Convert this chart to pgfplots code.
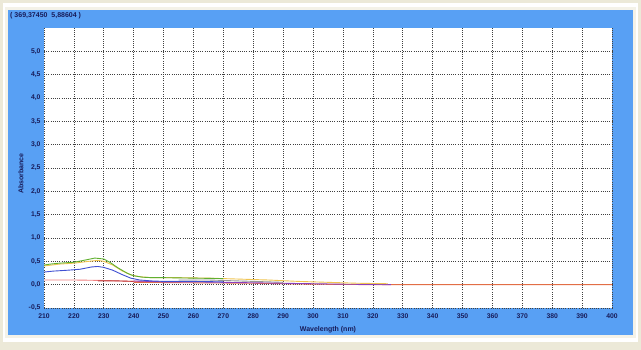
\documentclass[border=0pt]{standalone}
\usepackage{pgfplots}
\pgfplotsset{compat=1.18}
\usepackage{fontspec}
\setmainfont{Liberation Sans}
\definecolor{panelblue}{RGB}{88,160,244}
\definecolor{frame}{RGB}{236,233,216}
\definecolor{navy}{RGB}{24,28,90}
\definecolor{cgreen}{RGB}{96,176,48}
\definecolor{cyellow}{RGB}{240,196,80}
\definecolor{cblue}{RGB}{64,80,210}
\definecolor{cpink}{RGB}{240,128,128}
\definecolor{cdred}{RGB}{192,64,64}
\definecolor{cpurple}{RGB}{140,64,190}
\definecolor{cgrey}{RGB}{150,150,150}
\definecolor{corange}{RGB}{226,110,70}
\begin{document}
\begin{tikzpicture}[x=1pt,y=1pt]
\useasboundingbox (0,0) rectangle (641,350);
\fill[frame] (0,0) rectangle (641,350);
\fill[white] (3,8) rectangle (638,347);
\fill[frame!60!white] (5,12) rectangle (636,343);
\fill[panelblue] (8,15) rectangle (633,340);
\node[anchor=west,text=navy,font=\bfseries\fontsize{7}{8}\selectfont,inner sep=0pt] at (10,334.5) {( 369,37450~~5,88604 )};
\begin{axis}[
  at={(44pt,42pt)}, anchor=south west,
  scale only axis, width=568pt, height=280pt,
  xmin=210, xmax=400, ymin=-0.5, ymax=5.5,
  xtick={210,220,...,400},
  ytick={-0.5,0,0.5,1,1.5,2,2.5,3,3.5,4,4.5,5},
  axis background/.style={fill=white},
  axis line style={draw=none},
  major tick length=0pt,
  grid=major,
  major grid style={black!75, line width=0.6pt, dash pattern=on 1pt off 1.2pt},
  tick label style={font=\bfseries\fontsize{6.8}{7}\selectfont, text=navy},
  /pgf/number format/assume math mode=true,
  yticklabel style={xshift=0pt, /pgf/number format/use comma, /pgf/number format/fixed, /pgf/number format/fixed zerofill, /pgf/number format/precision=1},
  xticklabel style={yshift=-2pt, /pgf/number format/fixed, /pgf/number format/precision=0, /pgf/number format/1000 sep={}},
  xlabel={Wavelength (nm)},
  ylabel={Absorbance},
  label style={font=\bfseries\fontsize{7}{8}\selectfont, text=navy},
  xlabel style={at={(0.5,0)}, anchor=north, yshift=-15pt},
  ylabel style={at={(0,0.48)}, anchor=south, yshift=17pt},
  every axis plot/.append style={line width=0.9pt, no markers},
]
\addplot[corange] coordinates {(240,0.05) (260,0.04) (280,0.03) (300,0.01) (320,0.0) (330,0.0) (400,0.0)};
\addplot[cgrey] coordinates {(255,0.10) (265,0.10) (270,0.09) (280,0.07) (290,0.05)};
\addplot[cpink] coordinates {(210,0.10) (220,0.10) (230,0.09) (240,0.07) (250,0.06) (260,0.06)};
\addplot[cdred] coordinates {(228,0.08) (235,0.08) (240,0.07)};
\addplot[cpurple] coordinates {(240,0.08) (250,0.06) (260,0.06) (270,0.05) (280,0.04) (290,0.03) (300,0.02) (310,0.01) (320,0.005) (326,0.0)};
\addplot[cyellow] coordinates {(210,0.40) (215,0.44) (220,0.46) (225,0.50) (228,0.52) (230,0.50) (233,0.42) (236,0.30) (239,0.21) (242,0.17) (246,0.15) (255,0.15) (265,0.14) (275,0.12) (285,0.10) (295,0.07) (305,0.05) (315,0.03) (325,0.02)};
\addplot[cgreen] coordinates {(210,0.42) (212,0.44) (215,0.46) (220,0.48) (224,0.53) (227,0.57) (230,0.55) (232,0.48) (235,0.35) (238,0.24) (240,0.19) (243,0.16) (246,0.15) (250,0.15) (260,0.14) (270,0.13)};
\addplot[cblue] coordinates {(210,0.27) (213,0.29) (218,0.31) (222,0.33) (226,0.38) (228,0.39) (230,0.37) (233,0.31) (236,0.22) (239,0.14) (242,0.10) (246,0.08) (250,0.07) (260,0.07) (270,0.06)};
\end{axis}
\end{tikzpicture}
\end{document}
